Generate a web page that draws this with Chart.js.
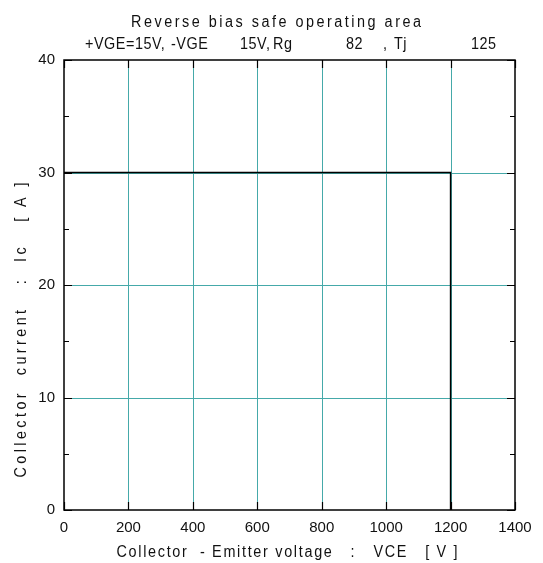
<!DOCTYPE html>
<html>
<head>
<meta charset="utf-8">
<script src="https://cdn.jsdelivr.net/npm/chart.js@4.4.1/dist/chart.umd.min.js"></script>
<style>
  body { margin: 0; background: #fff; }
  canvas { display: block; }
</style>
</head>
<body>
<canvas id="rbsoa" width="543" height="563"></canvas>
<script>
// RBSOA boundary (VCE in V, Ic in A)
const vce = [0, 1200, 1200];
const ic = [30, 30, 0];
const xTickValues = [0, 200, 400, 600, 800, 1000, 1200, 1400];
const yTickValues = [0, 10, 20, 30, 40];
const yMinorTicks = [5, 15, 25, 35];

const titleLine1 = "Reverse bias safe operating area";
// second title line, drawn piece by piece (symbols are missing in the original)
const titleLine2 = [
    ["+VGE=15V,", 85], ["-VGE", 171], ["15V,", 240], ["Rg", 273],
    ["82", 346], [",", 383], ["Tj", 394], ["125", 471]
];
const xTitle = "Collector  - Emitter voltage   :   VCE   [ V ]";
const yTitle = "Collector  current   :  Ic   [ A ]";

const GRID = "#45a9a9";
const FAMILY = "'Liberation Sans', Arial, sans-serif";

// draws text squeezed horizontally, spaced out so it fills a given width
function fitText(ctx, text, cx, y, width, sx) {
    ctx.save();
    ctx.letterSpacing = "0px";
    const w = ctx.measureText(text).width * sx;
    const sp = (width - w) / (text.length - 1) / sx;
    ctx.letterSpacing = sp.toFixed(2) + "px";
    ctx.translate(cx - width / 2, y);
    ctx.scale(sx, 1);
    ctx.textAlign = "left";
    ctx.fillText(text, 0, 0);
    ctx.restore();
}

function plainText(ctx, text, x, y, sx) {
    ctx.save();
    ctx.letterSpacing = "0.6px";
    ctx.translate(x, y);
    ctx.scale(sx, 1);
    ctx.textAlign = "left";
    ctx.fillText(text, 0, 0);
    ctx.restore();
}

const framePlugin = {
    id: "frame",
    beforeDatasetsDraw(chart) {
        const { ctx, chartArea: a, scales } = chart;
        ctx.save();
        ctx.strokeStyle = GRID;
        ctx.lineWidth = 1;
        ctx.beginPath();
        xTickValues.slice(1, -1).forEach(v => {
            const px = Math.round(scales.x.getPixelForValue(v)) + 0.5;
            ctx.moveTo(px, a.top); ctx.lineTo(px, a.bottom);
        });
        yTickValues.slice(1, -1).forEach(v => {
            const py = Math.round(scales.y.getPixelForValue(v)) + 0.5;
            ctx.moveTo(a.left, py); ctx.lineTo(a.right, py);
        });
        ctx.stroke();
        ctx.restore();
    },
    afterDraw(chart) {
        const { ctx, chartArea: a, scales } = chart;
        const x = scales.x, y = scales.y;
        ctx.save();
        ctx.strokeStyle = "#000";
        ctx.lineWidth = 1.5;
        ctx.strokeRect(a.left, a.top, a.right - a.left, a.bottom - a.top);

        ctx.lineWidth = 1.2;
        ctx.beginPath();
        xTickValues.forEach(v => {
            const px = Math.round(x.getPixelForValue(v)) + 0.5;
            ctx.moveTo(px, a.bottom); ctx.lineTo(px, a.bottom - 8);
            ctx.moveTo(px, a.top); ctx.lineTo(px, a.top + 8);
        });
        yTickValues.forEach(v => {
            const py = Math.round(y.getPixelForValue(v)) + 0.5;
            ctx.moveTo(a.left, py); ctx.lineTo(a.left + 8, py);
            ctx.moveTo(a.right, py); ctx.lineTo(a.right - 8, py);
        });
        yMinorTicks.forEach(v => {
            const py = Math.round(y.getPixelForValue(v)) + 0.5;
            ctx.moveTo(a.left, py); ctx.lineTo(a.left + 5, py);
            ctx.moveTo(a.right, py); ctx.lineTo(a.right - 5, py);
        });
        ctx.stroke();

        ctx.fillStyle = "#111";
        ctx.font = "16px " + FAMILY;
        ctx.textBaseline = "alphabetic";
        fitText(ctx, titleLine1, 276, 27, 290, 0.9);
        titleLine2.forEach(([t, px]) => plainText(ctx, t, px, 49, 0.9));

        fitText(ctx, xTitle, 287, 557, 341, 0.9);

        ctx.save();
        ctx.translate(26, 330);
        ctx.rotate(-Math.PI / 2);
        fitText(ctx, yTitle, 0, 0, 295, 0.9);
        ctx.restore();
        ctx.restore();
    }
};

const tickFont = { family: FAMILY, size: 15 };

new Chart(document.getElementById("rbsoa"), {
    type: "scatter",
    data: {
        datasets: [{
            data: vce.map((v, i) => ({ x: v, y: ic[i] })),
            showLine: true,
            borderColor: "#000",
            borderWidth: 1.5,
            pointRadius: 0,
            fill: false
        }]
    },
    options: {
        responsive: false,
        animation: false,
        layout: { padding: { top: 60, right: 28, left: 0, bottom: 0 } },
        plugins: { legend: { display: false }, tooltip: { enabled: false } },
        scales: {
            x: {
                type: "linear",
                min: 0, max: 1400,
                afterBuildTicks: s => { s.ticks = xTickValues.map(v => ({ value: v })); },
                afterFit: s => { s.height = 53; },
                ticks: { color: "#111", font: tickFont, padding: 9, maxRotation: 0, callback: v => String(v) },
                grid: { display: false, drawTicks: false },
                border: { display: false }
            },
            y: {
                type: "linear",
                min: 0, max: 40,
                afterBuildTicks: s => { s.ticks = yTickValues.map(v => ({ value: v })); },
                afterFit: s => { s.width = 64; },
                ticks: { color: "#111", font: tickFont, padding: 9, callback: v => String(v) },
                grid: { display: false, drawTicks: false },
                border: { display: false }
            }
        }
    },
    plugins: [framePlugin]
});
</script>
</body>
</html>
